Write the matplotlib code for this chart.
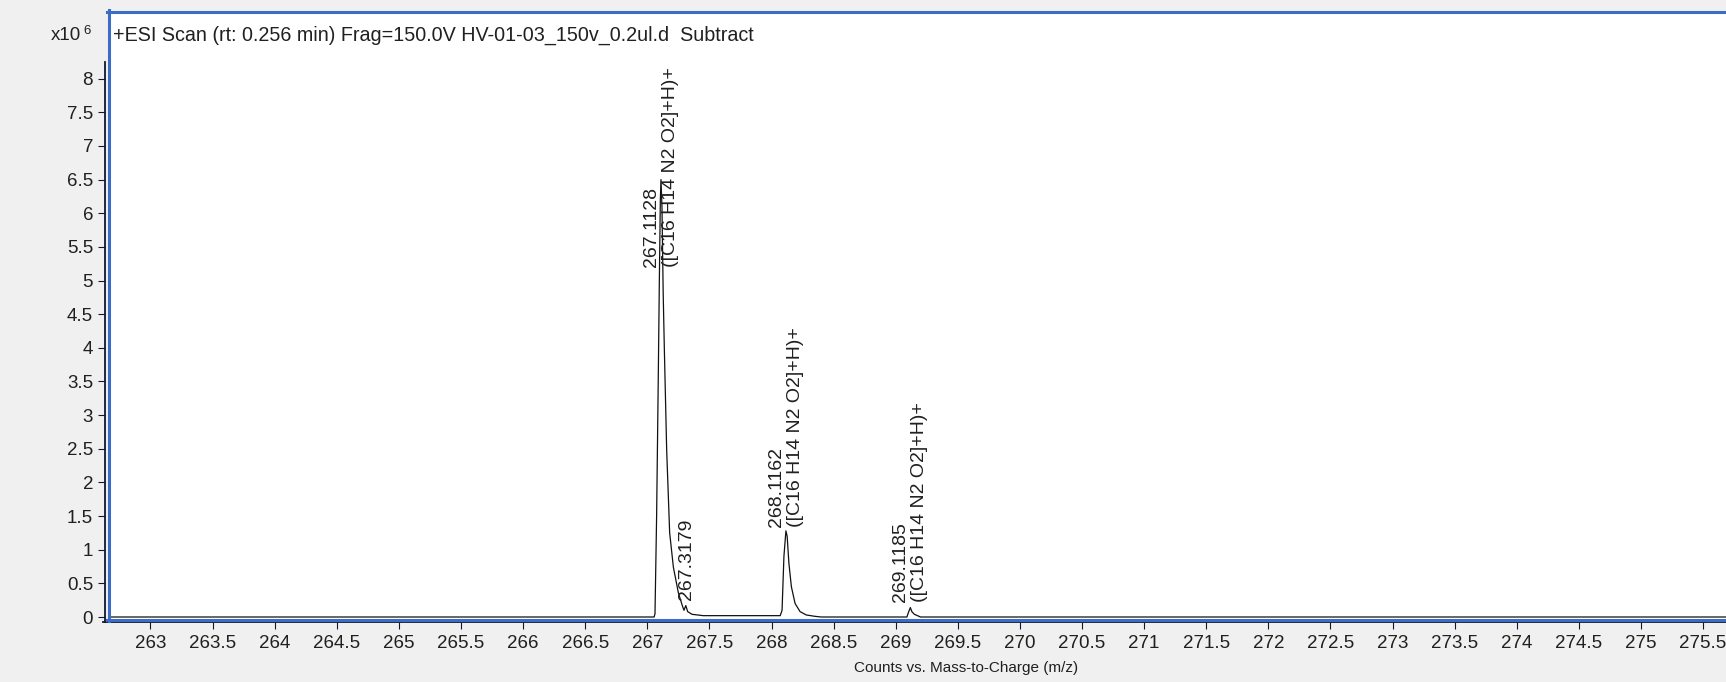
import matplotlib
matplotlib.use("Agg")
import matplotlib.pyplot as plt
from matplotlib.lines import Line2D

### Data (intensity in units of 1e6 counts)
mz = [262.674, 267.040, 267.055, 267.062, 267.075, 267.088, 267.097, 267.105,
      267.110, 267.118, 267.128, 267.137, 267.156, 267.180, 267.210, 267.250,
      267.280, 267.295, 267.310, 267.325, 267.360, 267.450, 268.070, 268.085,
      268.100, 268.116, 268.126, 268.140, 268.160, 268.190, 268.230, 268.280,
      268.350, 268.400, 269.090, 269.105, 269.118, 269.130, 269.150, 269.200,
      275.700]
counts = [0.0, 0.0, 0.0, 0.05, 1.5, 3.5, 5.0, 6.2,
          6.5, 6.1, 4.8, 4.0, 2.48, 1.25, 0.74, 0.36,
          0.18, 0.10, 0.17, 0.08, 0.04, 0.02, 0.02, 0.10,
          0.90, 1.28, 1.20, 0.80, 0.45, 0.20, 0.08, 0.03,
          0.01, 0.0, 0.0, 0.08, 0.14, 0.08, 0.04, 0.0,
          0.0]

peak_mz = [267.1128, 268.1162, 269.1185, 267.3179]
peak_label = ["267.1128\n([C16 H14 N2 O2]+H)+",
              "268.1162\n([C16 H14 N2 O2]+H)+",
              "269.1185\n([C16 H14 N2 O2]+H)+",
              "267.3179"]
label_base = [5.2, 1.34, 0.22, 0.25]

xticks = [263 + 0.5 * i for i in range(26)]
yticks = [0.5 * i for i in range(17)]

title = "+ESI Scan (rt: 0.256 min) Frag=150.0V HV-01-03_150v_0.2ul.d  Subtract"
xlabel = "Counts vs. Mass-to-Charge (m/z)"

### Layout (pixels)
W, H = 1726, 682
blue = "#3b6cc6"
navy = "#101830"
txt = "#202020"
fs = 13.5

plt.rcParams["font.family"] = ["Liberation Sans", "DejaVu Sans"]

fig = plt.figure(figsize=(W / 100, H / 100), dpi=100, facecolor="#f0f0f0")


def fx(x):
    return x / W


def fy(y):
    return 1 - y / H


ax_l, ax_t, ax_b = 110, 13, 619
ax = fig.add_axes([fx(ax_l), fy(ax_b), 1 - fx(ax_l), (ax_b - ax_t) / H])
ax.set_facecolor("white")

ppu_y = 67.3
ax.set_xlim(262.674, 275.685)
ax.set_ylim(-(ax_b - 617) / ppu_y, (617 - ax_t) / ppu_y)

ax.plot(mz, counts, color="#111111", lw=0.9, zorder=5, clip_on=False)

for m, lab, b in zip(peak_mz, peak_label, label_base):
    ax.text(m, b, lab, rotation=90, ha="center", va="bottom",
            multialignment="left", fontsize=14, color=txt, linespacing=1.15,
            zorder=6)

# spines / ticks
ax.spines["right"].set_visible(False)
ax.spines["top"].set_visible(False)
for s in ("left", "bottom"):
    ax.spines[s].set_color(navy)
    ax.spines[s].set_linewidth(1.3)
ax.spines["left"].set_position(("outward", 3.6))
ax.spines["bottom"].set_position(("outward", 2.2))
ax.spines["left"].set_bounds(-0.074, 8.25)
ax.spines["bottom"].set_bounds(262.62, 275.7)

ax.set_xticks(xticks)
ax.set_xticklabels(["%g" % v for v in xticks])
ax.set_yticks(yticks)
ax.set_yticklabels(["%g" % v for v in yticks])
ax.tick_params(axis="both", direction="out", length=5, width=0.8, color=navy,
               labelsize=fs, labelcolor=txt)
ax.tick_params(axis="y", pad=3.6)
ax.tick_params(axis="x", pad=4.3)

# blue plot border
for xs, ys in [((107, W), (11.5, 11.5)), ((108.5, 108.5), (10, 621)),
               ((107, W), (619.5, 619.5))]:
    fig.add_artist(Line2D([fx(v) for v in xs], [fy(v) for v in ys],
                          color=blue, lw=2.2, zorder=3))

fig.text(fx(113), fy(35), title, fontsize=14.2, color=txt, va="center",
         ha="left")
fig.text(fx(81), fy(35), "x10", fontsize=fs, color=txt, va="center", ha="right")
fig.text(fx(83), fy(31), "6", fontsize=9.5, color=txt, va="center", ha="left")
fig.text(fx(966), fy(668), xlabel, fontsize=11, color=txt, va="center",
         ha="center")

fig.savefig("out.png", dpi=100, facecolor=fig.get_facecolor())
